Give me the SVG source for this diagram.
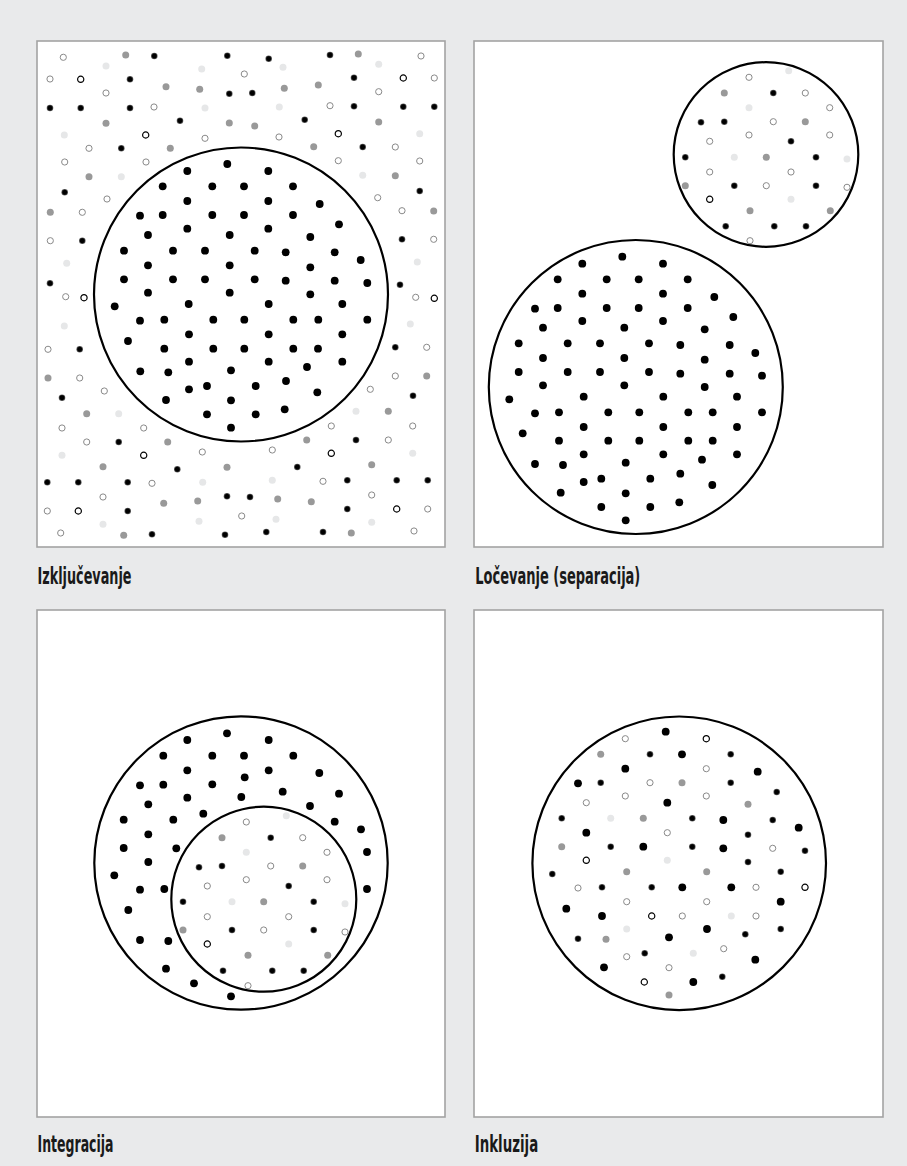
<svg xmlns="http://www.w3.org/2000/svg" xmlns:xlink="http://www.w3.org/1999/xlink" width="907" height="1166" viewBox="0 0 907 1166">
<style>
.frame{fill:#fff;stroke:#a3a3a3;stroke-width:1.6}
.ring{fill:none;stroke:#000;stroke-width:2.2}
.lbl{font-family:"Liberation Sans Narrow","DejaVu Sans Condensed","Liberation Sans",sans-serif;font-size:23px;font-weight:bold;fill:#1a1a1a}
</style>
<defs>
<radialGradient id="sg"><stop offset="0.6" stop-color="#000"/><stop offset="1" stop-color="#6a6a6a"/></radialGradient>
<circle id="B" r="3.9" fill="#000"/>
<circle id="s" r="3.3" fill="url(#sg)"/>
<circle id="g" r="3.5" fill="#999"/>
<circle id="l" r="3.5" fill="#e6e7e8"/>
<circle id="o" r="3.1" fill="#fff" stroke="#8a8a8a" stroke-width="1"/>
<circle id="k" r="3.1" fill="#fff" stroke="#000" stroke-width="1.2"/>
</defs>
<rect width="907" height="1166" fill="#e9eaeb"/>

<g id="panel-izkljucevanje">
<rect class="frame" x="37" y="41" width="408" height="506"/>
<circle class="ring" cx="241" cy="294.5" r="147"/>
<g id="p1-outside">
<use href="#o" x="63.3" y="57.3"/><use href="#o" x="244.3" y="74"/><use href="#o" x="50" y="79"/><use href="#o" x="434.3" y="78"/><use href="#o" x="106" y="93"/><use href="#o" x="378.7" y="91.7"/><use href="#o" x="154" y="107"/><use href="#o" x="330" y="105.7"/><use href="#o" x="205" y="138.3"/><use href="#o" x="279" y="137"/><use href="#o" x="89" y="148.3"/><use href="#o" x="395.3" y="147"/><use href="#o" x="64.7" y="162"/><use href="#o" x="146" y="162"/><use href="#o" x="338.3" y="160.7"/><use href="#o" x="419.7" y="161"/><use href="#o" x="107" y="199"/><use href="#o" x="377.7" y="197.7"/><use href="#o" x="82.3" y="212.3"/><use href="#o" x="402" y="210.7"/><use href="#o" x="50.3" y="240.7"/><use href="#o" x="433.7" y="239.3"/><use href="#o" x="65.7" y="296.7"/><use href="#o" x="415.7" y="297.3"/><use href="#o" x="421" y="56"/>
<use href="#o" x="48" y="349.3"/><use href="#o" x="426.7" y="347.3"/><use href="#o" x="79.7" y="378"/><use href="#o" x="395.3" y="376"/><use href="#o" x="104.3" y="391"/><use href="#o" x="370.3" y="389.3"/><use href="#o" x="62" y="428"/><use href="#o" x="143.7" y="428"/><use href="#o" x="331.3" y="426"/><use href="#o" x="412.7" y="426"/><use href="#o" x="86.7" y="442"/><use href="#o" x="388.3" y="440"/><use href="#o" x="202.3" y="452"/><use href="#o" x="272.3" y="450"/><use href="#o" x="152" y="483.3"/><use href="#o" x="323" y="481.3"/><use href="#o" x="103" y="497"/><use href="#o" x="371.7" y="495"/><use href="#o" x="47.3" y="511"/><use href="#o" x="241.7" y="516"/><use href="#o" x="427.7" y="509"/><use href="#o" x="60.7" y="533"/><use href="#o" x="414" y="531"/>
<use href="#k" x="80.7" y="79.3"/><use href="#k" x="403.3" y="78"/><use href="#k" x="145.7" y="135"/><use href="#k" x="338.3" y="133.7"/><use href="#k" x="84" y="297.7"/><use href="#k" x="434.3" y="298.3"/><use href="#k" x="143.7" y="455.3"/><use href="#k" x="331.3" y="453.3"/><use href="#k" x="78.3" y="511"/><use href="#k" x="396.7" y="509"/>
<use href="#s" x="154.3" y="56"/><use href="#s" x="227.3" y="55.7"/><use href="#s" x="268.7" y="58.7"/><use href="#s" x="330" y="55"/><use href="#s" x="130" y="79.3"/><use href="#s" x="354" y="77.7"/><use href="#s" x="229.3" y="93.7"/><use href="#s" x="252.3" y="93"/><use href="#s" x="50" y="108"/><use href="#s" x="80.7" y="108"/><use href="#s" x="130" y="108"/><use href="#s" x="354" y="106.3"/><use href="#s" x="403.3" y="106.7"/><use href="#s" x="434.3" y="106.7"/><use href="#s" x="180" y="120.7"/><use href="#s" x="304.7" y="119.7"/><use href="#s" x="121.3" y="148.3"/><use href="#s" x="362.7" y="147"/><use href="#s" x="64.7" y="192.3"/><use href="#s" x="419.7" y="191"/><use href="#s" x="82.3" y="240.7"/><use href="#s" x="402" y="239.3"/><use href="#s" x="50" y="283.3"/><use href="#s" x="400" y="284.7"/>
<use href="#s" x="79.7" y="349.3"/><use href="#s" x="395.3" y="347.3"/><use href="#s" x="62" y="397.7"/><use href="#s" x="413" y="395.7"/><use href="#s" x="118.7" y="442"/><use href="#s" x="356" y="440"/><use href="#s" x="177.3" y="469.3"/><use href="#s" x="297.3" y="467"/><use href="#s" x="47.3" y="482.3"/><use href="#s" x="78.3" y="482.3"/><use href="#s" x="127.7" y="482.3"/><use href="#s" x="347.3" y="480.3"/><use href="#s" x="396.7" y="480.3"/><use href="#s" x="427.7" y="480.3"/><use href="#s" x="227" y="496.3"/><use href="#s" x="250" y="497"/><use href="#s" x="127.7" y="511"/><use href="#s" x="347.3" y="509"/><use href="#s" x="152" y="534.3"/><use href="#s" x="225" y="534.7"/><use href="#s" x="266.3" y="532"/><use href="#s" x="323" y="532"/>
<use href="#g" x="125.7" y="55"/><use href="#g" x="358.3" y="54"/><use href="#g" x="166" y="86.7"/><use href="#g" x="199.7" y="89.3"/><use href="#g" x="284.3" y="88.3"/><use href="#g" x="318.3" y="85"/><use href="#g" x="106" y="123.3"/><use href="#g" x="229.3" y="123"/><use href="#g" x="254.7" y="126"/><use href="#g" x="378.7" y="122"/><use href="#g" x="170.3" y="148.3"/><use href="#g" x="313.7" y="146.7"/><use href="#g" x="89" y="176.7"/><use href="#g" x="395.3" y="175.7"/><use href="#g" x="50.3" y="212.3"/><use href="#g" x="433.7" y="211"/>
<use href="#g" x="48" y="378"/><use href="#g" x="426.7" y="376"/><use href="#g" x="86.7" y="413.7"/><use href="#g" x="388.3" y="411.3"/><use href="#g" x="167.7" y="442"/><use href="#g" x="306.7" y="440"/><use href="#g" x="103" y="466.7"/><use href="#g" x="227" y="467.3"/><use href="#g" x="371.7" y="464.7"/><use href="#g" x="163.7" y="503.3"/><use href="#g" x="197.7" y="501"/><use href="#g" x="277.7" y="499"/><use href="#g" x="311.3" y="501.7"/><use href="#g" x="123.7" y="535.3"/><use href="#g" x="351.3" y="533"/>
<use href="#l" x="106" y="66"/><use href="#l" x="201.7" y="69"/><use href="#l" x="283" y="67.3"/><use href="#l" x="378.7" y="64.3"/><use href="#l" x="205" y="108"/><use href="#l" x="279.3" y="107"/><use href="#l" x="64.3" y="135"/><use href="#l" x="419.7" y="133.7"/><use href="#l" x="121.3" y="176.7"/><use href="#l" x="362.7" y="175.3"/><use href="#l" x="66.7" y="263.3"/><use href="#l" x="417.3" y="262"/><use href="#l" x="64.3" y="326"/><use href="#l" x="410.3" y="324"/>
<use href="#l" x="118.7" y="413.7"/><use href="#l" x="356" y="411.3"/><use href="#l" x="62" y="455.3"/><use href="#l" x="412.7" y="453.3"/><use href="#l" x="202.7" y="482.3"/><use href="#l" x="272.3" y="480.3"/><use href="#l" x="103" y="524.3"/><use href="#l" x="199" y="521.3"/><use href="#l" x="276" y="519.3"/><use href="#l" x="371.7" y="522.3"/>
</g>
<g id="p1-inside">
<use href="#B" x="227.3" y="164"/><use href="#B" x="187.3" y="171"/><use href="#B" x="268.3" y="171"/><use href="#B" x="162.7" y="186.3"/><use href="#B" x="212.3" y="186.3"/><use href="#B" x="244" y="186.3"/><use href="#B" x="293" y="186.3"/><use href="#B" x="187.3" y="201"/><use href="#B" x="268.3" y="201"/><use href="#B" x="319.7" y="204"/><use href="#B" x="140" y="215.7"/><use href="#B" x="162.7" y="215"/><use href="#B" x="212.3" y="215"/><use href="#B" x="244" y="215"/><use href="#B" x="293" y="215"/><use href="#B" x="187.3" y="228.7"/><use href="#B" x="268.3" y="228.7"/><use href="#B" x="339" y="224.3"/><use href="#B" x="148" y="235"/><use href="#B" x="229.7" y="235"/><use href="#B" x="310.3" y="237"/><use href="#B" x="124" y="250.7"/><use href="#B" x="173" y="250.7"/><use href="#B" x="205" y="250.7"/><use href="#B" x="254.7" y="250.7"/><use href="#B" x="285.7" y="252.3"/><use href="#B" x="334.7" y="252.3"/><use href="#B" x="360.7" y="260"/><use href="#B" x="148" y="265.3"/><use href="#B" x="229.7" y="265.3"/><use href="#B" x="310.3" y="267.3"/><use href="#B" x="124" y="279.3"/><use href="#B" x="173" y="279.3"/><use href="#B" x="205" y="279.3"/><use href="#B" x="254.7" y="279.3"/><use href="#B" x="285.7" y="280.7"/><use href="#B" x="334.7" y="280.7"/><use href="#B" x="367.3" y="283"/><use href="#B" x="148" y="292.7"/><use href="#B" x="229.7" y="292.7"/><use href="#B" x="310.3" y="294.3"/><use href="#B" x="114.7" y="306.3"/><use href="#B" x="188.7" y="304"/><use href="#B" x="268.7" y="304"/><use href="#B" x="342.3" y="304"/><use href="#B" x="140" y="320.7"/><use href="#B" x="164.3" y="319.7"/><use href="#B" x="213.3" y="319.7"/><use href="#B" x="244.3" y="319.7"/><use href="#B" x="293.3" y="319.7"/><use href="#B" x="318.3" y="319.7"/><use href="#B" x="367.3" y="319.7"/>
<use href="#B" x="189" y="334.3"/><use href="#B" x="268.7" y="334.3"/><use href="#B" x="342.3" y="334.3"/><use href="#B" x="128" y="341"/><use href="#B" x="164.3" y="348.7"/><use href="#B" x="213.3" y="348.7"/><use href="#B" x="244.3" y="348.7"/><use href="#B" x="293.3" y="348.7"/><use href="#B" x="318" y="348.7"/><use href="#B" x="189" y="361.7"/><use href="#B" x="268.7" y="361.7"/><use href="#B" x="342.3" y="361.7"/><use href="#B" x="307" y="367"/><use href="#B" x="231" y="370.3"/><use href="#B" x="140.3" y="371.3"/><use href="#B" x="168.3" y="372.3"/><use href="#B" x="286" y="381"/><use href="#B" x="189" y="389.3"/><use href="#B" x="207" y="386"/><use href="#B" x="255.7" y="386"/><use href="#B" x="317.3" y="392.3"/><use href="#B" x="166" y="400"/><use href="#B" x="231" y="400.3"/><use href="#B" x="207" y="414.3"/><use href="#B" x="255.7" y="414.3"/><use href="#B" x="284.7" y="409.3"/><use href="#B" x="231" y="427.7"/>
</g>
</g>

<g id="panel-locevanje">
<rect class="frame" x="474" y="41" width="409" height="506"/>
<circle class="ring" cx="766" cy="154.5" r="92.3"/>
<circle class="ring" cx="635.8" cy="387" r="147"/>
<g id="p2-small">
<use href="#l" x="788.7" y="70.7"/><use href="#o" x="749" y="77.3"/><use href="#g" x="724.3" y="93"/><use href="#s" x="773.3" y="93"/><use href="#o" x="805.3" y="93"/><use href="#l" x="749" y="107.7"/><use href="#o" x="829.7" y="107.7"/><use href="#s" x="701" y="122.3"/><use href="#s" x="724.3" y="121.7"/><use href="#o" x="773.3" y="121.7"/><use href="#g" x="805.3" y="121.7"/><use href="#o" x="709.7" y="141.3"/><use href="#o" x="749" y="135"/><use href="#s" x="791" y="141.3"/><use href="#o" x="829.7" y="135"/><use href="#s" x="685.3" y="157.3"/><use href="#l" x="734.3" y="157.3"/><use href="#g" x="766.3" y="157.3"/><use href="#s" x="816" y="157.3"/><use href="#l" x="847" y="159"/><use href="#o" x="709.7" y="172"/><use href="#o" x="791" y="172"/><use href="#g" x="685.3" y="185.7"/><use href="#s" x="734.3" y="185.7"/><use href="#o" x="766.3" y="185.7"/><use href="#s" x="816" y="185.7"/><use href="#o" x="847" y="187.3"/><use href="#k" x="709.7" y="199.3"/><use href="#l" x="791" y="199.3"/><use href="#g" x="750" y="210.7"/><use href="#g" x="830.3" y="210.7"/><use href="#s" x="725.7" y="226.3"/><use href="#s" x="774.3" y="226.3"/><use href="#s" x="806" y="226.3"/><use href="#o" x="750" y="240.7"/>
</g>
<g id="p2-big">
<use href="#B" x="622.3" y="256.7"/><use href="#B" x="582.3" y="263.7"/><use href="#B" x="663" y="263.7"/><use href="#B" x="557.7" y="279.3"/><use href="#B" x="606.7" y="279.3"/><use href="#B" x="638.7" y="279.3"/><use href="#B" x="687.7" y="279.3"/><use href="#B" x="582.3" y="293.7"/><use href="#B" x="663" y="293.7"/><use href="#B" x="714.3" y="297"/><use href="#B" x="535" y="308.7"/><use href="#B" x="557.7" y="308"/><use href="#B" x="606.7" y="308"/><use href="#B" x="638.7" y="308"/><use href="#B" x="687.7" y="308"/><use href="#B" x="733.3" y="317"/><use href="#B" x="582.3" y="321"/><use href="#B" x="663" y="321"/><use href="#B" x="543" y="327.7"/><use href="#B" x="624.3" y="327.7"/><use href="#B" x="704.7" y="329.3"/><use href="#B" x="518.7" y="343.3"/><use href="#B" x="567.7" y="343.3"/><use href="#B" x="600" y="343.3"/><use href="#B" x="649" y="343.3"/><use href="#B" x="680.3" y="345"/><use href="#B" x="729.7" y="345"/><use href="#B" x="755.3" y="353"/><use href="#B" x="543" y="358"/><use href="#B" x="624.3" y="358"/><use href="#B" x="704.7" y="359.7"/><use href="#B" x="518.7" y="372"/><use href="#B" x="567.7" y="372"/><use href="#B" x="600" y="372"/><use href="#B" x="649" y="372"/><use href="#B" x="680.3" y="373.7"/><use href="#B" x="729.7" y="373.7"/><use href="#B" x="762" y="375.7"/><use href="#B" x="543" y="385.3"/><use href="#B" x="624.3" y="385.3"/><use href="#B" x="704.7" y="387"/><use href="#B" x="509.3" y="399.3"/><use href="#B" x="583.7" y="396.7"/><use href="#B" x="663.3" y="396.7"/><use href="#B" x="737" y="396.7"/><use href="#B" x="535" y="413.3"/><use href="#B" x="559" y="412.3"/><use href="#B" x="608.3" y="412.3"/><use href="#B" x="639.3" y="412.3"/><use href="#B" x="688.3" y="412.3"/><use href="#B" x="712.7" y="412.3"/><use href="#B" x="762" y="412.3"/><use href="#B" x="522.7" y="433.3"/><use href="#B" x="583.7" y="427"/><use href="#B" x="663.3" y="427"/><use href="#B" x="737" y="427"/><use href="#B" x="559" y="440.7"/><use href="#B" x="608.3" y="440.7"/><use href="#B" x="639.3" y="440.7"/><use href="#B" x="688.3" y="440.7"/><use href="#B" x="712.7" y="440.7"/><use href="#B" x="583.7" y="454.3"/><use href="#B" x="663.3" y="454.3"/><use href="#B" x="737" y="454.3"/><use href="#B" x="535" y="464"/><use href="#B" x="563" y="465"/><use href="#B" x="625.7" y="462.7"/><use href="#B" x="702" y="459.7"/><use href="#B" x="583.7" y="482"/><use href="#B" x="601.3" y="478.7"/><use href="#B" x="650.3" y="478.7"/><use href="#B" x="680.3" y="473.7"/><use href="#B" x="712.3" y="485"/><use href="#B" x="560.7" y="492.7"/><use href="#B" x="625.7" y="493.3"/><use href="#B" x="601.3" y="507"/><use href="#B" x="650.3" y="507"/><use href="#B" x="679.3" y="502.3"/><use href="#B" x="625.7" y="520.3"/>
</g>
</g>

<g id="panel-integracija">
<rect class="frame" x="37" y="610" width="408" height="507"/>
<circle class="ring" cx="241" cy="863" r="146.7"/>
<circle class="ring" cx="263.8" cy="899.2" r="92.5"/>
<g id="p3-outer">
<use href="#B" x="227" y="733.3"/><use href="#B" x="187.3" y="740"/><use href="#B" x="268.7" y="740"/><use href="#B" x="163.3" y="755.7"/><use href="#B" x="212.3" y="755.7"/><use href="#B" x="244" y="755.7"/><use href="#B" x="293.3" y="755.7"/><use href="#B" x="187.3" y="770.3"/><use href="#B" x="268.7" y="770.3"/><use href="#B" x="319.3" y="773"/><use href="#B" x="140" y="785.3"/><use href="#B" x="163.3" y="784.7"/><use href="#B" x="212.3" y="784.3"/><use href="#B" x="244.7" y="777.3"/><use href="#B" x="187.3" y="797.7"/><use href="#B" x="241.3" y="797"/><use href="#B" x="282.7" y="791.7"/><use href="#B" x="339" y="793.7"/><use href="#B" x="148.3" y="804.3"/><use href="#B" x="310" y="806"/><use href="#B" x="123.7" y="819.7"/><use href="#B" x="173.3" y="819.7"/><use href="#B" x="203.3" y="813.7"/><use href="#B" x="334.7" y="821.7"/><use href="#B" x="361" y="829.3"/><use href="#B" x="148.3" y="834.3"/><use href="#B" x="123.7" y="848"/><use href="#B" x="176.3" y="848.3"/><use href="#B" x="367" y="852"/><use href="#B" x="148.3" y="862"/><use href="#B" x="114.3" y="875.3"/><use href="#B" x="140" y="889.7"/><use href="#B" x="164.3" y="889"/><use href="#B" x="367" y="889"/><use href="#B" x="128.3" y="910"/><use href="#B" x="140" y="940"/><use href="#B" x="168.3" y="941"/><use href="#B" x="166" y="968.7"/><use href="#B" x="194" y="983.3"/><use href="#B" x="231" y="996.3"/>
</g>
<g id="p3-inner">
<use href="#l" x="286.3" y="815.7"/><use href="#o" x="246.3" y="822"/><use href="#g" x="222" y="837.7"/><use href="#s" x="270.7" y="837.7"/><use href="#o" x="302.7" y="837.7"/><use href="#l" x="246.3" y="852.3"/><use href="#o" x="327" y="852.3"/><use href="#s" x="199" y="867.3"/><use href="#s" x="222" y="866"/><use href="#o" x="270.7" y="866"/><use href="#g" x="302.7" y="866"/><use href="#o" x="207.3" y="886"/><use href="#o" x="246.3" y="879.7"/><use href="#s" x="288.7" y="886"/><use href="#o" x="327" y="879.7"/><use href="#s" x="183" y="901.7"/><use href="#l" x="232" y="901.7"/><use href="#g" x="263.7" y="901.7"/><use href="#s" x="313.7" y="901.7"/><use href="#l" x="345" y="903.7"/><use href="#o" x="207.3" y="916.7"/><use href="#o" x="288.7" y="916.7"/><use href="#g" x="183" y="930"/><use href="#s" x="232" y="930"/><use href="#o" x="263.7" y="930"/><use href="#s" x="313.7" y="930"/><use href="#o" x="345" y="932"/><use href="#k" x="207.3" y="944"/><use href="#l" x="288.7" y="944"/><use href="#g" x="248" y="955.3"/><use href="#g" x="327.7" y="955.3"/><use href="#s" x="223" y="970.7"/><use href="#s" x="272.3" y="970.7"/><use href="#s" x="303.7" y="970.7"/><use href="#o" x="248" y="985.7"/>
</g>
</g>

<g id="panel-inkluzija">
<rect class="frame" x="474" y="610" width="409" height="507"/>
<circle class="ring" cx="679.2" cy="863.3" r="146.8"/>
<g id="p4-dots">
<use href="#B" x="665.7" y="731.7"/><use href="#o" x="625.3" y="738.7"/><use href="#k" x="706.3" y="738.7"/><use href="#g" x="600.7" y="754.3"/><use href="#s" x="650" y="754.3"/><use href="#B" x="682" y="754.3"/><use href="#s" x="730.7" y="754.3"/><use href="#B" x="625.3" y="768.7"/><use href="#o" x="706.3" y="768.7"/><use href="#B" x="757.7" y="771.7"/><use href="#B" x="578" y="783.3"/><use href="#s" x="600.7" y="782.7"/><use href="#o" x="650" y="782.7"/><use href="#g" x="682" y="782.7"/><use href="#s" x="730.7" y="782.7"/><use href="#s" x="776.7" y="792"/><use href="#o" x="586.3" y="802.7"/><use href="#o" x="625.3" y="796"/><use href="#B" x="667.3" y="802.7"/><use href="#o" x="706.3" y="796"/><use href="#g" x="748" y="804.3"/><use href="#s" x="561.7" y="818.3"/><use href="#l" x="610.7" y="818.3"/><use href="#g" x="643.3" y="818.3"/><use href="#s" x="692.3" y="818.3"/><use href="#B" x="723.3" y="820"/><use href="#s" x="772.7" y="820"/><use href="#B" x="798.7" y="827.7"/><use href="#B" x="586.3" y="832.7"/><use href="#o" x="667.3" y="832.7"/><use href="#s" x="748" y="834.7"/><use href="#g" x="561.7" y="846.7"/><use href="#s" x="610.7" y="846.7"/><use href="#B" x="643.3" y="846.7"/><use href="#s" x="692.3" y="846.7"/><use href="#B" x="723.3" y="848.3"/><use href="#o" x="772.7" y="848.3"/><use href="#s" x="805" y="850.7"/><use href="#k" x="586.3" y="860.3"/><use href="#l" x="667.3" y="860.3"/><use href="#s" x="748" y="862"/><use href="#s" x="552.3" y="874"/><use href="#g" x="626.7" y="871.7"/><use href="#g" x="706.7" y="871.7"/><use href="#s" x="780.7" y="871.7"/><use href="#o" x="578" y="888"/><use href="#s" x="602" y="887.3"/><use href="#s" x="651.7" y="887.3"/><use href="#B" x="682.3" y="887.3"/><use href="#B" x="731.3" y="887.3"/><use href="#o" x="756" y="887.3"/><use href="#k" x="805" y="887.3"/><use href="#B" x="566.3" y="908.7"/><use href="#o" x="626.7" y="901.7"/><use href="#o" x="706.7" y="901.7"/><use href="#B" x="780.7" y="901.7"/><use href="#B" x="602" y="916"/><use href="#k" x="651.7" y="916"/><use href="#o" x="682.3" y="916"/><use href="#l" x="731.3" y="916"/><use href="#o" x="756" y="916"/><use href="#l" x="626.7" y="929"/><use href="#B" x="707" y="929"/><use href="#s" x="780.7" y="929"/><use href="#s" x="578" y="938.7"/><use href="#g" x="606" y="939.3"/><use href="#B" x="669" y="937.3"/><use href="#s" x="745.3" y="934.3"/><use href="#o" x="626.7" y="956.7"/><use href="#s" x="644.7" y="953.3"/><use href="#l" x="693.3" y="953.3"/><use href="#o" x="723.7" y="948.7"/><use href="#B" x="755.3" y="959.7"/><use href="#B" x="604" y="967.3"/><use href="#o" x="669" y="967.7"/><use href="#k" x="644.3" y="982"/><use href="#B" x="693.3" y="982"/><use href="#s" x="722.3" y="976.7"/><use href="#g" x="669" y="995"/>
</g>
</g>

<g id="labels">
<text class="lbl" x="37.5" y="584" textLength="94" lengthAdjust="spacingAndGlyphs">Izključevanje</text>
<text class="lbl" x="475.3" y="584" textLength="165" lengthAdjust="spacingAndGlyphs">Ločevanje (separacija)</text>
<text class="lbl" x="37.5" y="1152" textLength="76" lengthAdjust="spacingAndGlyphs">Integracija</text>
<text class="lbl" x="474.7" y="1152" textLength="63.5" lengthAdjust="spacingAndGlyphs">Inkluzija</text>
</g>
</svg>
